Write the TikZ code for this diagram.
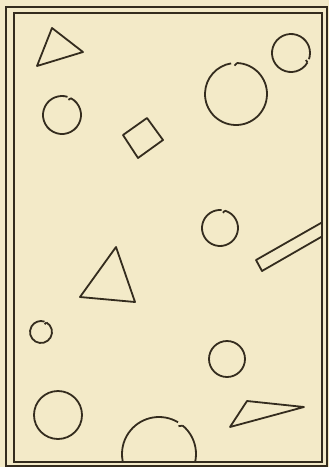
\documentclass[tikz,border=0pt]{standalone}
\usetikzlibrary{calc}
\definecolor{paper}{RGB}{243,234,200}
\definecolor{ink}{RGB}{52,44,30}

\begin{document}
\begin{tikzpicture}[x=1pt,y=-1pt,
  % ── outline styles ──────────────────────────────────────
  fig/.style={draw=ink, line width=1.8pt, line join=round},
  frameline/.style={draw=ink, line width=1.6pt},
]
%% ── PAPER ────────────────────────────────────────────────────
\fill[paper] (0,0) rectangle (329,467);
\useasboundingbox (0,0) rectangle (329,467);

%% ── DOUBLE FRAME ─────────────────────────────────────────────
\draw[frameline] (6,7) rectangle (327,466);
\draw[frameline] (14,13) rectangle (322,462);

%% ── TRIANGLES ────────────────────────────────────────────────
\draw[fig] (52,28) -- (83,52) -- (37,66) -- cycle;
\draw[fig] (116,247) -- (135,302) -- (80,297) -- cycle;
\draw[fig] (247,401) -- (304,407) -- (230,427) -- cycle;

%% ── SQUARE ───────────────────────────────────────────────────
\draw[fig] (123,135) -- (147,118) -- (163,140) -- (138,158) -- cycle;

%% ── NOTCHED CIRCLES (x/y/radius/notch angle) ─────────────────
\foreach \cx/\cy/\r/\a in {62/115/19/-68, 236/94/31/-94, 291/53/19/24,
                           220/228/18/-80, 41/332/11/-66}{
  \draw[fig] ($(\cx,\cy)+(\a+6:\r)$)
    arc[start angle=\a+6, end angle=\a+355, radius=\r];
  \draw[fig] ($(\cx,\cy)+(\a+6:\r)$) -- ($(\cx,\cy)+(\a+1:\r-2.5)$);
}

%% ── PLAIN CIRCLES ────────────────────────────────────────────
\draw[fig] (58,415) circle[radius=24];
\draw[fig] (227,359) circle[radius=18];

%% ── SHAPES CUT BY THE FRAME ──────────────────────────────────
\begin{scope}
  \clip (14,13) rectangle (322,462);
  % bar running off the right edge
  \draw[fig] (335,215) -- (256,260) -- (262,271) -- (335,229);
  % half circle at the bottom
  \draw[fig] ($(159,454)+(-50:37)$)
    arc[start angle=-50, end angle=301, radius=37];
  \draw[fig] ($(159,454)+(-50:37)$) -- ($(159,454)+(-55:34)$);
\end{scope}

\end{tikzpicture}
\end{document}
